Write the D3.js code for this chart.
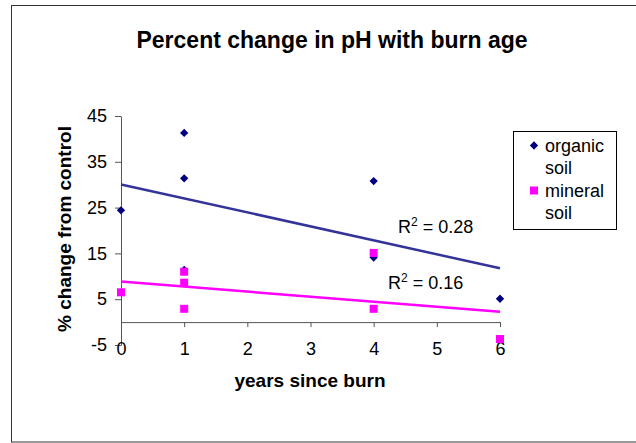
<!DOCTYPE html>
<html>
<head>
<meta charset="utf-8">
<script src="https://cdn.jsdelivr.net/npm/d3@7"></script>
<style>
  body { margin: 0; background: #fff; }
  text { font-family: "Liberation Sans", Arial, sans-serif; fill: #000; }
</style>
</head>
<body>
<div class="chart"></div>
<script>
var svgWidth = 636;
var svgHeight = 443;

// data
var seriesNames = ["organic soil", "mineral soil"];
var organicX = [0, 1, 1, 1, 4, 4, 6];
var organicY = [24.4, 41.3, 31.4, 11.4, 30.8, 14.1, 5.1];
var mineralX = [0, 1, 1, 1, 4, 4, 6];
var mineralY = [6.5, 11.0, 8.6, 2.9, 15.1, 2.9, -3.7];
var rSquared = ["0.28", "0.16"];
var xTicks = [0, 1, 2, 3, 4, 5, 6];
var yTicks = [-5, 5, 15, 25, 35, 45];

var colors = ["#000080", "#FF00FF"];
var lineColors = ["#333399", "#FF00FF"];

var svg = d3.select(".chart")
  .append("svg")
  .attr("width", svgWidth)
  .attr("height", svgHeight);

// outer chart border (right edge runs off the picture)
svg.append("rect")
  .attr("x", 11.5)
  .attr("y", 5.5)
  .attr("width", 640)
  .attr("height", 436.5)
  .attr("fill", "none")
  .attr("stroke", "#333")
  .attr("stroke-width", 1);

var xScale = d3.scaleLinear().domain([0, 6]).range([121, 500]);
var yScale = d3.scaleLinear().domain([-5, 45]).range([345, 116]);

// title
svg.append("text")
  .attr("x", 332)
  .attr("y", 48)
  .attr("text-anchor", "middle")
  .attr("font-size", "23px")
  .attr("font-weight", "bold")
  .text("Percent change in pH with burn age");

// y axis
var yAxis = svg.append("g")
  .attr("transform", `translate(${xScale(0)}, 0)`)
  .call(d3.axisLeft(yScale).tickValues(yTicks).tickFormat(d => String(d))
    .tickSize(6).tickPadding(8).tickSizeOuter(0));
yAxis.select(".domain").attr("stroke", "#555");
yAxis.selectAll(".tick line").attr("stroke", "#555");
yAxis.selectAll(".tick text")
  .attr("font-size", "18px")
  .attr("font-family", "Liberation Sans, Arial, sans-serif")
  .attr("fill", "#000");

// x axis crossing at y = 0
var xAxis = svg.append("g")
  .attr("transform", `translate(0, ${yScale(0)})`)
  .call(d3.axisBottom(xScale).tickValues(xTicks).tickFormat(d => String(d))
    .tickSize(5).tickPadding(15).tickSizeOuter(0));
xAxis.select(".domain").attr("stroke", "#555");
xAxis.selectAll(".tick line").attr("stroke", "#555");
xAxis.selectAll(".tick text")
  .attr("font-size", "18px")
  .attr("font-family", "Liberation Sans, Arial, sans-serif")
  .attr("fill", "#000");

// axis titles
svg.append("text")
  .attr("x", 310)
  .attr("y", 387)
  .attr("text-anchor", "middle")
  .attr("font-size", "19px")
  .attr("font-weight", "bold")
  .text("years since burn");

svg.append("text")
  .attr("transform", "translate(71, 229) rotate(-90)")
  .attr("text-anchor", "middle")
  .attr("font-size", "19px")
  .attr("font-weight", "bold")
  .text("% change from control");

// least squares trendline
function fitLine(xs, ys) {
  var mx = d3.mean(xs), my = d3.mean(ys);
  var sxy = d3.sum(xs, (x, i) => (x - mx) * (ys[i] - my));
  var sxx = d3.sum(xs, x => (x - mx) * (x - mx));
  var slope = sxy / sxx;
  return { slope: slope, intercept: my - slope * mx };
}

var series = [
  { xs: organicX, ys: organicY },
  { xs: mineralX, ys: mineralY }
];

var line = d3.line().x(d => xScale(d[0])).y(d => yScale(d[1]));

series.forEach(function(s, i) {
  var fit = fitLine(s.xs, s.ys);
  var pts = [0, 6].map(x => [x, fit.intercept + fit.slope * x]);
  svg.append("path")
    .attr("d", line(pts))
    .attr("fill", "none")
    .attr("stroke", lineColors[i])
    .attr("stroke-width", 2.5);
});

// markers
var diamond = d3.symbol().type(d3.symbolDiamond2).size(44);

svg.selectAll(".organic")
  .data(organicX.map((x, i) => [x, organicY[i]]))
  .enter()
  .append("path")
  .attr("class", "organic")
  .attr("d", diamond)
  .attr("transform", d => `translate(${xScale(d[0])}, ${yScale(d[1])})`)
  .attr("fill", colors[0]);

svg.selectAll(".mineral")
  .data(mineralX.map((x, i) => [x, mineralY[i]]))
  .enter()
  .append("rect")
  .attr("class", "mineral")
  .attr("x", d => xScale(d[0]) - 4)
  .attr("y", d => yScale(d[1]) - 4)
  .attr("width", 8)
  .attr("height", 8)
  .attr("fill", colors[1]);

// R squared labels
var rPos = [[398, 233], [388, 289]];
rSquared.forEach(function(r, i) {
  var t = svg.append("text")
    .attr("x", rPos[i][0])
    .attr("y", rPos[i][1])
    .attr("font-size", "18px");
  t.append("tspan").text("R");
  t.append("tspan").attr("dy", -7).attr("font-size", "12px").text("2");
  t.append("tspan").attr("dy", 7).text(" = " + r);
});

// legend
var legend = svg.append("g");
legend.append("rect")
  .attr("x", 513.5)
  .attr("y", 131.5)
  .attr("width", 103)
  .attr("height", 98)
  .attr("fill", "#fff")
  .attr("stroke", "#000");

seriesNames.forEach(function(name, i) {
  var cy = 145.5 + i * 45;
  if (i === 0) {
    legend.append("path")
      .attr("d", diamond)
      .attr("transform", `translate(534, ${cy})`)
      .attr("fill", colors[0]);
  } else {
    legend.append("rect")
      .attr("x", 530)
      .attr("y", cy - 4)
      .attr("width", 8)
      .attr("height", 8)
      .attr("fill", colors[1]);
  }
  var words = name.split(" ");
  words.forEach(function(w, j) {
    legend.append("text")
      .attr("x", 545)
      .attr("y", cy + 6 + j * 22)
      .attr("font-size", "18px")
      .text(w);
  });
});
</script>
</body>
</html>
